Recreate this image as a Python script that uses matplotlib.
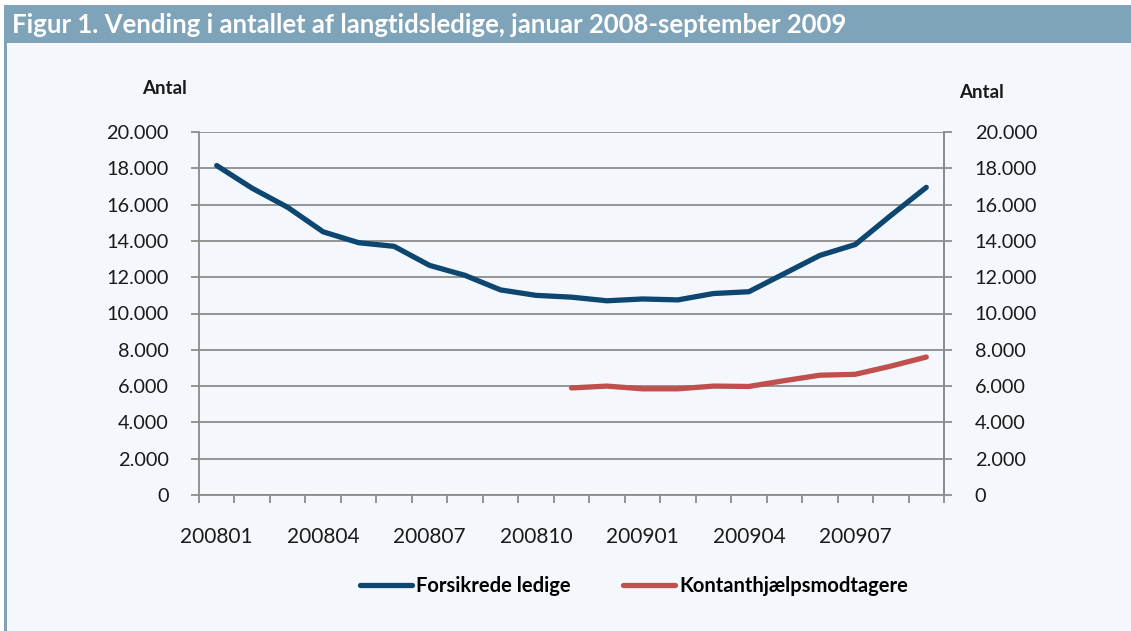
import numpy as np
import matplotlib.pyplot as plt
from matplotlib.patches import Rectangle
from matplotlib.lines import Line2D

plt.rcParams['font.family'] = ['Lato', 'DejaVu Sans']

# data
months = ['200801', '200802', '200803', '200804', '200805', '200806', '200807',
          '200808', '200809', '200810', '200811', '200812', '200901', '200902',
          '200903', '200904', '200905', '200906', '200907', '200908', '200909']
forsikrede = [18150, 16900, 15850, 14500, 13900, 13700, 12650, 12100, 11300, 11000,
              10900, 10700, 10800, 10750, 11100, 11200, 12200, 13200, 13800, 15400, 16950]
kontant = [np.nan] * 10 + [5900, 6000, 5850, 5850, 6000, 5980, 6300, 6600, 6650, 7100, 7600]
yticks = list(range(0, 20001, 2000))

W, H = 1131, 631
fig = plt.figure(figsize=(W / 100, H / 100), dpi=100)
fig.patch.set_facecolor('white')

barcol = '#7fa3b8'
bgcol = '#f4f8fc'
# background panel, title bar and left rule
fig.patches.append(Rectangle((4 / W, 0), 1 - 4 / W, (H - 43) / H, transform=fig.transFigure,
                             facecolor=bgcol, edgecolor='none', zorder=-3))
fig.patches.append(Rectangle((4 / W, (H - 43) / H), 1 - 4 / W, 38 / H, transform=fig.transFigure,
                             facecolor=barcol, edgecolor='none', zorder=-2))
fig.patches.append(Rectangle((4 / W, 0), 3 / W, (H - 43) / H, transform=fig.transFigure,
                             facecolor=barcol, edgecolor='none', zorder=-2))
fig.text(12 / W, (H - 25) / H, 'Figur 1. Vending i antallet af langtidsledige, januar 2008-september 2009',
         color='white', fontsize=18.5, fontweight='bold', va='center', ha='left')

ax = fig.add_axes([199 / W, (H - 495) / H, (944 - 199) / W, (495 - 132) / H])
ax.set_facecolor('none')
x = np.arange(len(months))
blue = '#0d4670'
red = '#c0504d'
ax.plot(x, forsikrede, color=blue, lw=3.8, solid_capstyle='round', solid_joinstyle='round', zorder=3)
ax.plot(x, kontant, color=red, lw=3.8, solid_capstyle='round', solid_joinstyle='round', zorder=3)

ax.set_xlim(-0.5, len(months) - 0.5)
ax.set_ylim(0, 20000)
ax.set_yticks(yticks)
ax.set_yticklabels([f'{v:,}'.replace(',', '.') for v in yticks])
ax.grid(axis='y', color='#8c8c8c', lw=1.3)
ax.set_axisbelow(True)

gray = '#8c8c8c'
ax.spines['top'].set_visible(False)
for s in ['left', 'right', 'bottom']:
    ax.spines[s].set_color(gray)
    ax.spines[s].set_linewidth(1.3)

ax.set_xticks(np.arange(-0.5, len(months), 1.0))
ax.set_xticklabels([])
ax.set_xticks(x[::3], minor=True)
ax.set_xticklabels([months[i] for i in x[::3]], minor=True)
ax.tick_params(axis='x', which='major', length=6, width=1.3, color=gray)
ax.tick_params(axis='x', which='minor', length=0, pad=23, labelsize=15, labelcolor='#1a1a1a')
ax.tick_params(axis='y', length=6, width=1.3, color=gray, pad=16, labelsize=14.3, labelcolor='#1a1a1a')

ax2 = ax.twinx()
ax2.set_ylim(0, 20000)
ax2.set_yticks(yticks)
ax2.set_yticklabels([f'{v:,}'.replace(',', '.') for v in yticks])
ax2.tick_params(axis='y', length=6, width=1.3, color=gray, pad=16, labelsize=14.3, labelcolor='#1a1a1a')
for s in ['top', 'left', 'bottom']:
    ax2.spines[s].set_visible(False)
ax2.spines['right'].set_color(gray)
ax2.spines['right'].set_linewidth(1.3)

fig.text(164 / W, (H - 88) / H, 'Antal', fontsize=13.5, fontweight='bold', ha='center', va='center', color='#1a1a1a')
fig.text(981 / W, (H - 92) / H, 'Antal', fontsize=13.5, fontweight='bold', ha='center', va='center', color='#1a1a1a')

handles = [Line2D([], [], color=blue, lw=3.8, solid_capstyle='round'),
           Line2D([], [], color=red, lw=3.8, solid_capstyle='round')]
fig.legend(handles, ['Forsikrede ledige', 'Kontanthjælpsmodtagere'], loc='center',
           bbox_to_anchor=(634 / W, (H - 586) / H), ncol=2, frameon=False,
           prop={'weight': 'bold', 'size': 14.5}, handlelength=2.6, handletextpad=0.2,
           columnspacing=2.6)

fig.savefig('out.png', dpi=100, facecolor=fig.get_facecolor())
